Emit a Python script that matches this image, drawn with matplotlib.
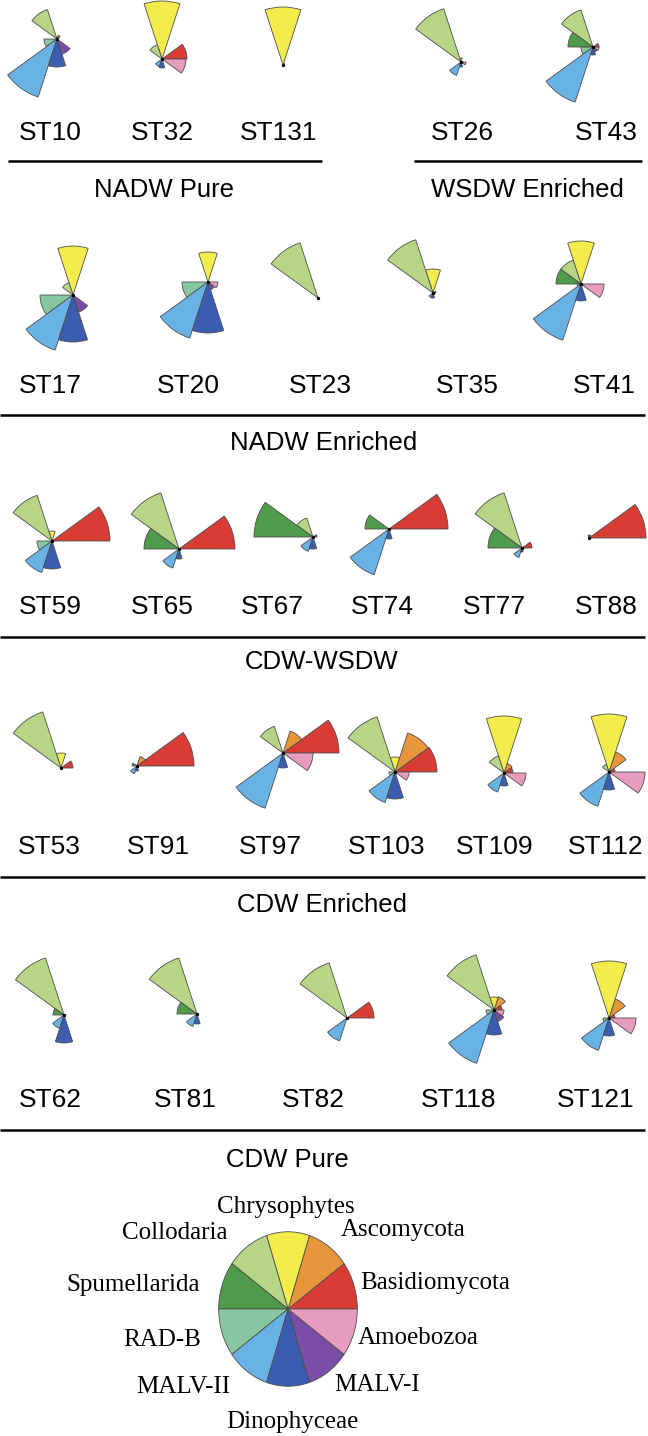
import numpy as np
import matplotlib
matplotlib.use("Agg")
import matplotlib.pyplot as plt

# taxa in order of sector, starting at 0 deg and going counter-clockwise
taxa = ['Basidiomycota', 'Ascomycota', 'Chrysophytes', 'Collodaria', 'Spumellarida',
        'RAD-B', 'MALV-II', 'Dinophyceae', 'MALV-I', 'Amoebozoa']
colors = ['#d93b35', '#e8963c', '#f4ec4a', '#b6d685', '#4f9a4b',
          '#87c7a0', '#68b2e6', '#3a5db0', '#7a4ea6', '#e89cbd']

# relative abundances (wedge radius) per station, same order as taxa
ST10 = [0, 4, 2, 31, 0, 13, 61, 28, 16, 0]
ST32 = [25, 0, 58, 15, 0, 0, 8, 9, 0, 24]
ST131 = [0, 2, 58, 0, 0, 0, 0, 0, 0, 0]
ST26 = [0, 0, 4, 56, 0, 0, 14, 5, 0, 5]
ST43 = [6, 0, 0, 39, 25, 12, 58, 8, 5, 6]
ST17 = [0, 0, 49, 13, 0, 33, 58, 47, 18, 0]
ST20 = [0, 0, 30, 0, 0, 26, 59, 51, 8, 10]
ST23 = [0, 0, 0, 58, 0, 0, 0, 0, 0, 0]
ST35 = [3, 0, 24, 56, 0, 0, 5, 5, 0, 0]
ST41 = [0, 0, 43, 25, 25, 4, 59, 17, 0, 23]
ST59 = [58, 0, 10, 48, 0, 15, 33, 28, 0, 0]
ST65 = [56, 0, 0, 59, 35, 0, 20, 10, 0, 0]
ST67 = [4, 0, 0, 20, 59, 0, 15, 12, 0, 0]
ST74 = [59, 0, 0, 0, 24, 0, 48, 10, 0, 0]
ST77 = [10, 0, 0, 58, 34, 0, 10, 4, 0, 0]
ST88 = [57, 3, 3, 0, 0, 0, 0, 0, 0, 0]
ST53 = [12, 0, 15, 59, 0, 0, 0, 0, 0, 0]
ST91 = [57, 10, 0, 0, 5, 0, 8, 5, 0, 0]
ST97 = [56, 23, 0, 28, 0, 0, 58, 15, 0, 30]
ST103 = [42, 41, 15, 58, 0, 6, 32, 27, 0, 14]
ST109 = [9, 10, 57, 18, 0, 0, 20, 13, 0, 22]
ST112 = [6, 21, 58, 8, 0, 0, 36, 18, 0, 36]
ST62 = [0, 0, 0, 60, 11, 0, 14, 28, 0, 0]
ST81 = [0, 0, 0, 59, 20, 0, 13, 10, 0, 0]
ST82 = [27, 0, 0, 58, 0, 0, 24, 0, 0, 0]
ST118 = [8, 14, 13, 58, 0, 8, 56, 25, 12, 10]
ST121 = [6, 20, 57, 0, 0, 6, 34, 18, 0, 27]

W, H = 648, 1436
fig = plt.figure(figsize=(W / 100, H / 100), dpi=100)
bg = fig.add_axes([0, 0, 1, 1])
bg.set_xlim(0, W)
bg.set_ylim(H, 0)
bg.axis('off')

R = 62  # pixel radius of each rose axes

# (name, values, rose centre x, rose centre y, label x, label y)
layout = [
    ('ST10', ST10, 57, 39, 50, 133), ('ST32', ST32, 162, 59, 162, 133),
    ('ST131', ST131, 283, 65, 279, 133), ('ST26', ST26, 461, 62, 462, 133),
    ('ST43', ST43, 593, 47, 606, 133),
    ('ST17', ST17, 73, 295, 50, 386), ('ST20', ST20, 208, 282, 188, 386),
    ('ST23', ST23, 318, 298, 320, 386), ('ST35', ST35, 433, 293, 467, 386),
    ('ST41', ST41, 581, 284, 604, 386),
    ('ST59', ST59, 52, 541, 50, 607), ('ST65', ST65, 179, 549, 162, 607),
    ('ST67', ST67, 313, 537, 272, 607), ('ST74', ST74, 389, 529, 382, 607),
    ('ST77', ST77, 522, 548, 494, 607), ('ST88', ST88, 589, 538, 606, 607),
    ('ST53', ST53, 61, 768, 49, 847), ('ST91', ST91, 137, 766, 158, 847),
    ('ST97', ST97, 283, 753, 270, 847), ('ST103', ST103, 395, 772, 387, 847),
    ('ST109', ST109, 504, 773, 495, 847), ('ST112', ST112, 609, 772, 606, 847),
    ('ST62', ST62, 64, 1015, 50, 1100), ('ST81', ST81, 197, 1014, 185, 1100),
    ('ST82', ST82, 347, 1018, 313, 1100), ('ST118', ST118, 494, 1010, 459, 1100),
    ('ST121', ST121, 609, 1018, 596, 1100),
]

theta = np.deg2rad(18 + 36 * np.arange(10))
width = np.deg2rad(36)

for name, vals, cx, cy, lx, ly in layout:
    ax = fig.add_axes([(cx - R) / W, 1 - (cy + R) / H, 2 * R / W, 2 * R / H],
                      projection='polar')
    ax.bar(theta, vals, width=width, bottom=0, color=colors,
           edgecolor='#4d4d4d', linewidth=0.6, clip_on=False)
    ax.plot([0], [0], 'o', color='black', markersize=1.4, clip_on=False)
    ax.set_rlim(0, R)
    ax.axis('off')
    ax.patch.set_alpha(0)
    bg.text(lx, ly, name, ha='center', va='center', fontsize=19,
            family='Liberation Sans')

# separator lines and group names
lines = [(8, 322, 161), (414, 642, 161), (0, 645, 415), (0, 645, 637),
         (0, 645, 877), (0, 645, 1130)]
for x0, x1, y in lines:
    bg.plot([x0, x1], [y, y], color='black', lw=1.8, solid_capstyle='butt')

groups = [('NADW Pure', 164, 190), ('WSDW Enriched', 527, 190),
          ('NADW Enriched', 324, 443), ('CDW-WSDW', 322, 662),
          ('CDW Enriched', 322, 905), ('CDW Pure', 287, 1160)]
for txt, x, y in groups:
    bg.text(x, y, txt, ha='center', va='center', fontsize=18.5,
            family='Liberation Sans')

# legend pie
pcx, pcy, prx, pry = 288, 1309, 70, 78
lax = fig.add_axes([(pcx - prx) / W, 1 - (pcy + pry) / H, 2 * prx / W, 2 * pry / H])
lax.pie([1] * 10, colors=colors, startangle=0, counterclock=True,
        wedgeprops=dict(edgecolor='#4d4d4d', linewidth=0.6))
lax.set_xlim(-1.01, 1.01)
lax.set_ylim(-1.01, 1.01)
lax.set_aspect('auto')
lax.axis('off')

leg_pos = [(435, 1283), (403, 1230), (286, 1207), (175, 1233), (133, 1285),
           (162, 1340), (183, 1387), (292, 1422), (377, 1385), (418, 1338)]
for name, (x, y) in zip(taxa, leg_pos):
    bg.text(x, y, name, ha='center', va='center', fontsize=18,
            family='Liberation Serif')

fig.savefig('out.png', dpi=100)
